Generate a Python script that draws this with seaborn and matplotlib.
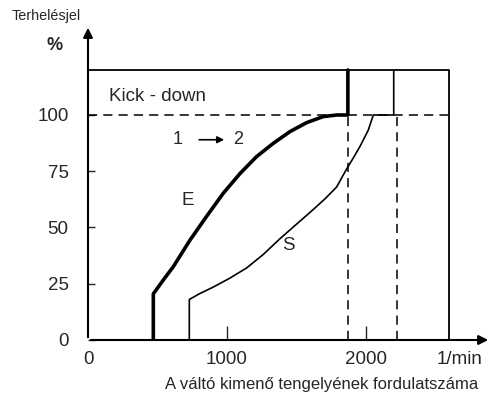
import numpy as np
import matplotlib
matplotlib.use("Agg")
import matplotlib.pyplot as plt
import seaborn as sns

# (x in 1/min, y in %)
e_x = [470, 470, 540, 614, 734, 854, 973, 1094, 1213, 1333, 1453, 1573, 1693, 1790, 1870, 1870]
e_y = [0, 20.5, 26.5, 32.6, 44.4, 55, 65.2, 74, 81.5, 87.4, 92.6, 96.6, 99.3, 100, 100, 120]
s_x = [729, 729, 800, 901, 1021, 1141, 1261, 1381, 1501, 1621, 1710, 1789, 1861, 1910, 1957, 2017, 2053, 2200, 2200]
s_y = [0, 18, 20.5, 23.5, 27.5, 32, 38, 45, 51.5, 58, 63, 68, 76, 81, 86, 93.3, 100, 100, 120]
box_x = [0, 2600, 2600]
box_y = [120, 120, 0]
kickdown_level = 100
dash_x = [1870, 2220]
x_ticks = [0, 1000, 2000]
y_ticks = [0, 25, 50, 75, 100]

sns.set_style("white")
plt.rcParams['font.family'] = ['Liberation Sans', 'DejaVu Sans']

fig = plt.figure(figsize=(4.93, 4.03), dpi=100)
ax = fig.add_axes([88 / 493, 63 / 403, 403 / 493, 315 / 403])
ax.set_xlim(0, 2900)
ax.set_ylim(0, 140)
for s in ax.spines.values():
    s.set_visible(False)

# axes with arrows
ax.annotate("", xy=(2900, 0), xytext=(0, 0),
            arrowprops=dict(arrowstyle="-|>", color="black", lw=1.5, mutation_scale=14))
ax.annotate("", xy=(0, 140), xytext=(0, 0),
            arrowprops=dict(arrowstyle="-|>", color="black", lw=1.5, mutation_scale=14))

# frame and reference lines
sns.lineplot(x=box_x, y=box_y, sort=False, estimator=None, color="black", lw=1.3, ax=ax)
ax.plot([0, 2600], [kickdown_level, kickdown_level], color="black", lw=1.1, ls=(0, (6, 4)))
for xd in dash_x:
    ax.plot([xd, xd], [0, kickdown_level], color="black", lw=1.1, ls=(0, (6, 4)))

# shift curves
sns.lineplot(x=e_x, y=e_y, sort=False, estimator=None, color="black", lw=2.6, ax=ax)
sns.lineplot(x=s_x, y=s_y, sort=False, estimator=None, color="black", lw=1.2, ax=ax)

ax.set_xticks(x_ticks)
ax.set_xticklabels([str(v) for v in x_ticks])
ax.set_yticks(y_ticks)
ax.set_yticklabels([str(v) for v in y_ticks])
ax.tick_params(axis="x", direction="in", length=10, width=1, labelsize=13.5, pad=8, bottom=True)
ax.tick_params(axis="y", direction="in", length=5, width=1, labelsize=13.5, pad=14, left=True)
ax.xaxis.get_major_ticks()[0].tick1line.set_visible(False)

ax.text(150, 108, "Kick - down", fontsize=13.5, ha="left", va="center")
ax.text(647, 89, "1", fontsize=13, ha="center", va="center")
ax.text(1079, 89, "2", fontsize=13, ha="center", va="center")
ax.annotate("", xy=(1000, 89), xytext=(780, 89),
            arrowprops=dict(arrowstyle="-|>", color="black", lw=1.2, mutation_scale=10))
ax.text(719, 62, "E", fontsize=13.5, ha="center", va="center")
ax.text(1439, 42, "S", fontsize=13.5, ha="center", va="center")

fig.text(12 / 493, 1 - 16 / 403, "Terhelésjel", fontsize=10.4, ha="left", va="center")
fig.text(55 / 493, 1 - 45 / 403, "%", fontsize=13, ha="center", va="center", fontweight="bold")
fig.text(460 / 493, 1 - 359 / 403, "1/min", fontsize=13.5, ha="center", va="center")
fig.text(322 / 493, 1 - 385 / 403, "A váltó kimenő tengelyének fordulatszáma", fontsize=12,
         ha="center", va="center")

fig.savefig("out.png", dpi=100)
